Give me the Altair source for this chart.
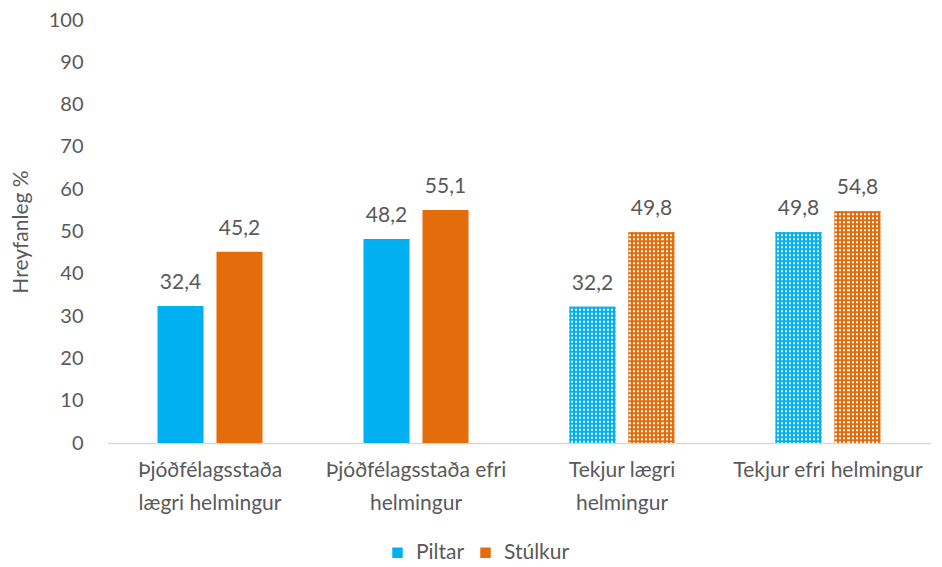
import altair as alt
import pandas as pd

categories = ["Þjóðfélagsstaða|lægri helmingur", "Þjóðfélagsstaða efri|helmingur",
              "Tekjur lægri|helmingur", "Tekjur efri helmingur"]
series = ["Piltar", "Stúlkur"]
piltar = [32.4, 48.2, 32.2, 49.8]
stulkur = [45.2, 55.1, 49.8, 54.8]
dotted = [False, False, True, True]
colors = ["#00B0F0", "#E46C0A"]

rows = []
for c, p, s, d in zip(categories, piltar, stulkur, dotted):
    rows.append({"cat": c, "series": "Piltar", "value": p, "dotted": d})
    rows.append({"cat": c, "series": "Stúlkur", "value": s, "dotted": d})
df = pd.DataFrame(rows)
df["label"] = df["value"].map(lambda v: f"{v:.1f}".replace(".", ","))

FONT = "Lato"
GRAY = "#595959"
BAR_W = 46.0

# white vertical stripes (texture) as a gradient
stops = []
period = 4.0 / BAR_W
k = 0
while k * period < 1:
    a = min(1.0, k * period + 1.0 / BAR_W)
    b = min(1.0, k * period + 3.0 / BAR_W)
    stops += [{"offset": a, "color": "rgba(255,255,255,0)"},
              {"offset": a, "color": "#ffffff"},
              {"offset": b, "color": "#ffffff"},
              {"offset": b, "color": "rgba(255,255,255,0)"}]
    k += 1
stripe_grad = {"gradient": "linear", "x1": 0, "x2": 1, "y1": 0, "y2": 0, "stops": stops}

x = alt.X("cat:N", sort=categories,
          scale=alt.Scale(paddingInner=0.4903, paddingOuter=0.2451),
          axis=alt.Axis(title=None, labelExpr="split(datum.label, '|')", labelAngle=0,
                        labelFontSize=21, labelColor=GRAY, labelFont=FONT, labelLimit=400,
                        labelLineHeight=33, labelPadding=16, ticks=False,
                        domainColor="#D9D9D9", domainWidth=1.3))
xoff = alt.XOffset("series:N", sort=series, scale=alt.Scale(paddingInner=0.22, paddingOuter=0))
y = alt.Y("value:Q", scale=alt.Scale(domain=[0, 100]),
          axis=alt.Axis(title="Hreyfanleg %", values=list(range(0, 101, 10)),
                        grid=False, ticks=False, tickSize=0, domain=False,
                        labelFontSize=20, labelColor=GRAY, labelFont=FONT, labelPadding=24,
                        titleFontSize=21, titleColor=GRAY, titleFont=FONT,
                        titleFontWeight="normal", titlePadding=17))
color = alt.Color("series:N", sort=series, scale=alt.Scale(domain=series, range=colors),
                  legend=alt.Legend(title=None, orient="none", legendX=280, legendY=522,
                                    direction="horizontal", symbolType="square",
                                    symbolSize=110, symbolStrokeWidth=0, labelOffset=8,
                                    labelFontSize=21, labelColor=GRAY, labelFont=FONT,
                                    columnPadding=10))

base = alt.Chart(df)

bars = base.mark_bar().encode(x=x, xOffset=xoff, y=y, color=color)

stripes = base.transform_filter("datum.dotted").mark_bar(fill=stripe_grad).encode(
    x=x, xOffset=xoff, y=y)

bands = base.transform_filter("datum.dotted").mark_rule(
    strokeWidth=BAR_W, strokeDash=[2.0, 2.0], strokeCap="butt").encode(
    x=x, xOffset=xoff, y=y, y2=alt.datum(0),
    stroke=alt.Stroke("series:N", sort=series,
                      scale=alt.Scale(domain=series, range=colors), legend=None))

labels = base.mark_text(dy=-23, fontSize=21, color=GRAY, font=FONT).encode(
    x=x, xOffset=xoff, y=y, text="label:N")

chart = alt.layer(bars, stripes, bands, labels).properties(
    width=824, height=423,
    padding={"left": 2, "right": 0, "top": 2, "bottom": 0}
).configure(font=FONT, background="white").configure_view(stroke=None)

chart.save("out.html", embed_options={"renderer": "svg", "actions": False})
